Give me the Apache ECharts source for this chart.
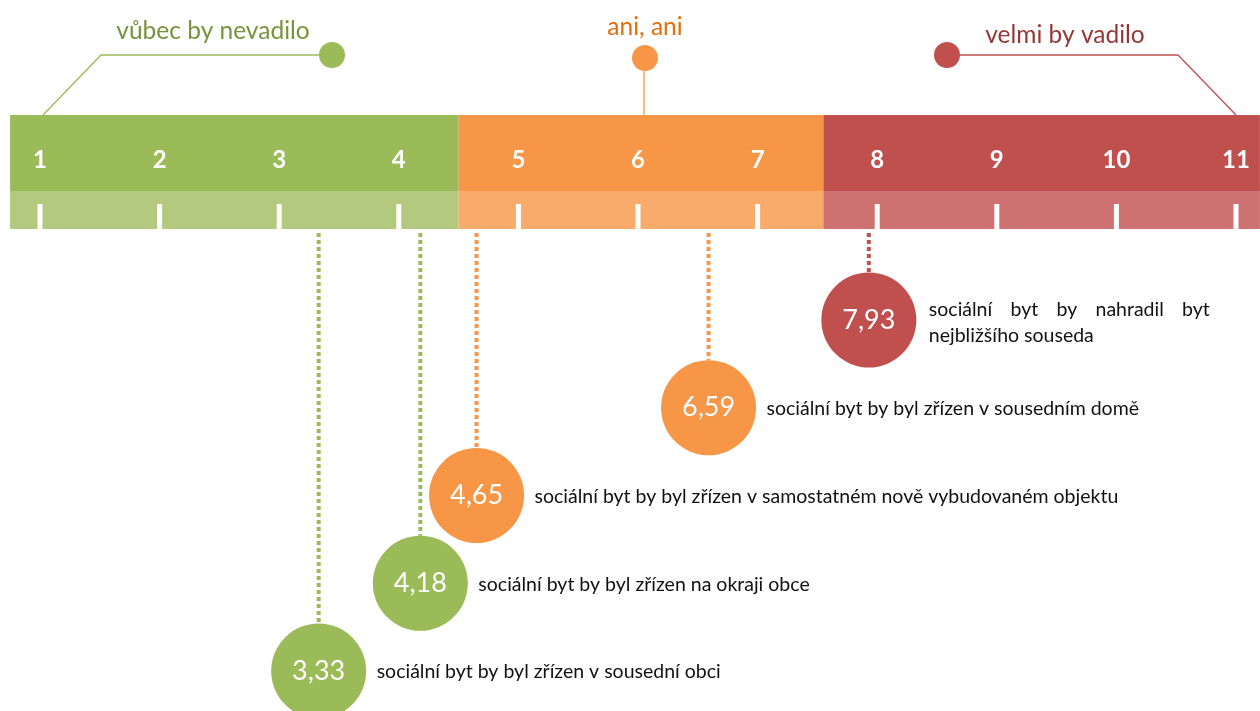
<!DOCTYPE html>
<html><head><meta charset="utf-8">
<script src="https://cdn.jsdelivr.net/npm/echarts@6/dist/echarts.min.js"></script>
<style>html,body{margin:0;padding:0;background:#fff}#c{width:1260px;height:711px}</style>
</head><body><div id="c"></div>
<script>
// ---- data ----
const scaleTicks = [1, 2, 3, 4, 5, 6, 7, 8, 9, 10, 11];
const zoneNames = ['vůbec by nevadilo', 'ani, ani', 'velmi by vadilo'];
const zoneStart = [0.75, 4.5, 7.55];
const zoneEnd = [4.5, 7.55, 11.2];
const zoneAnchor = [1, 6, 11];
const itemTexts = [
  'sociální byt by nahradil byt nejbližšího souseda',
  'sociální byt by byl zřízen v sousedním domě',
  'sociální byt by byl zřízen v samostatném nově vybudovaném objektu',
  'sociální byt by byl zřízen na okraji obce',
  'sociální byt by byl zřízen v sousední obci'
];
const itemValues = [7.93, 6.59, 4.65, 4.18, 3.33];
const itemRanks = [1, 2, 3, 4, 5];

// ---- styles / layout ----
const COL = ['#9BBB59', '#F79646', '#C0504D'];
const LIGHT = ['#B2C97E', '#F9AB6C', '#CD7270'];
const TXT = ['#77933C', '#E46C0A', '#953735'];
const BAR_TOP = 115, BAR_MID = 191, BAR_BOT = 229;
const FONT = 'Lato, "Open Sans", sans-serif';
const DESC_FONT = '19.5px ' + FONT;
const R = 47.5;
const textWrap = [281, 0, 0, 0, 0];
const LINE_H = 26;
// annotation leader offsets relative to anchor x
const ANN = [
  {poly: [[3, BAR_TOP], [61, 55], [292, 55]], circle: [292, 55], text: [173, 31]},
  {poly: [[6, 71], [6, BAR_TOP]], circle: [7, 58], text: [7, 27]},
  {poly: [[0, BAR_TOP], [-58, 55], [-289, 55]], circle: [-289, 55], text: [-171, 35]}
];
function zoneOf(v) { return v < zoneEnd[0] ? 0 : (v < zoneEnd[1] ? 1 : 2); }

const mctx = document.createElement('canvas').getContext('2d');
function measure(t) { mctx.font = DESC_FONT; return mctx.measureText(t).width; }

// justified text block (word elements) starting at x, vertically centred at y
function justified(text, x, y, W) {
  const words = text.split(' ');
  const lines = [];
  let cur = [];
  words.forEach(w => {
    const trial = cur.concat([w]).join(' ');
    if (cur.length && measure(trial) > W) { lines.push(cur); cur = [w]; }
    else cur.push(w);
  });
  if (cur.length) lines.push(cur);
  const out = [];
  const y0 = y - (lines.length - 1) * LINE_H / 2;
  lines.forEach((ws, li) => {
    const ly = y0 + li * LINE_H;
    const last = li === lines.length - 1;
    const wsum = ws.reduce((s, w) => s + measure(w), 0);
    const gap = (!last && ws.length > 1) ? (W - wsum) / (ws.length - 1) : measure(' ');
    let cx = x;
    ws.forEach(w => {
      out.push({type: 'text', style: {x: cx, y: ly, text: w, fill: '#111111', font: DESC_FONT,
        align: 'left', verticalAlign: 'middle'}});
      cx += measure(w) + gap;
    });
  });
  return out;
}

const chart = echarts.init(document.getElementById('c'), null, {renderer: 'canvas'});
chart.setOption({
  animation: false,
  grid: {left: 40, right: 24, top: 320, bottom: 40},
  xAxis: {type: 'value', min: 1, max: 11, show: false},
  yAxis: {type: 'value', min: 1, max: 5, inverse: true, show: false},
  series: [
    { // scale bar zones
      type: 'custom', clip: false, z: 1,
      data: zoneStart.map((s, i) => [s, zoneEnd[i], i]),
      renderItem: (params, api) => {
        const i = api.value(2);
        const x1 = api.coord([api.value(0), 1])[0];
        const x2 = api.coord([api.value(1), 1])[0];
        return {type: 'group', children: [
          {type: 'rect', shape: {x: x1, y: BAR_TOP, width: x2 - x1, height: BAR_MID - BAR_TOP}, style: {fill: COL[i]}},
          {type: 'rect', shape: {x: x1, y: BAR_MID, width: x2 - x1, height: BAR_BOT - BAR_MID}, style: {fill: LIGHT[i]}}
        ]};
      }
    },
    { // ticks and tick labels
      type: 'custom', clip: false, z: 3,
      data: scaleTicks.map(t => [t, 1]),
      renderItem: (params, api) => {
        const x = api.coord([api.value(0), 1])[0];
        return {type: 'group', children: [
          {type: 'rect', shape: {x: x - 2.5, y: 204, width: 5, height: BAR_BOT - 204}, style: {fill: '#ffffff'}},
          {type: 'text', style: {x: x, y: 160, text: String(api.value(0)), fill: '#ffffff',
            font: 'bold 24px ' + FONT, align: 'center', verticalAlign: 'middle'}}
        ]};
      }
    },
    { // zone annotations
      type: 'custom', clip: false, z: 2,
      data: zoneAnchor.map((a, i) => [a, 1, i]),
      renderItem: (params, api) => {
        const i = api.value(2);
        const x0 = api.coord([api.value(0), 1])[0];
        const a = ANN[i];
        return {type: 'group', children: [
          {type: 'polyline', shape: {points: a.poly.map(p => [x0 + p[0], p[1]])}, style: {stroke: COL[i], lineWidth: 1.3, fill: null}},
          {type: 'circle', shape: {cx: x0 + a.circle[0], cy: a.circle[1], r: 13}, style: {fill: COL[i]}},
          {type: 'text', style: {x: x0 + a.text[0], y: a.text[1], text: zoneNames[i], fill: TXT[i],
            font: '24.5px ' + FONT, align: 'center', verticalAlign: 'middle'}}
        ]};
      }
    },
    { // dotted leaders + descriptions
      type: 'custom', clip: false, z: 2,
      data: itemValues.map((v, i) => [v, itemRanks[i], i]),
      renderItem: (params, api) => {
        const i = api.value(2);
        const v = api.value(0);
        const p = api.coord([v, api.value(1)]);
        const c = COL[zoneOf(v)];
        const children = [
          {type: 'line', shape: {x1: p[0], y1: BAR_BOT + 4, x2: p[0], y2: p[1] - R}, style: {stroke: c, lineWidth: 4, lineDash: [4, 3]}}
        ];
        if (textWrap[i]) {
          justified(itemTexts[i], p[0] + 60, p[1] + 3, textWrap[i]).forEach(el => children.push(el));
        } else {
          children.push({type: 'text', style: {x: p[0] + 58, y: p[1] + 1, text: itemTexts[i], fill: '#111111',
            font: DESC_FONT, align: 'left', verticalAlign: 'middle'}});
        }
        return {type: 'group', children: children};
      }
    },
    { // bubbles
      type: 'scatter', clip: false, z: 5,
      symbolSize: 2 * R,
      data: itemValues.map((v, i) => ({value: [v, itemRanks[i]], itemStyle: {color: COL[zoneOf(v)], opacity: 1}})),
      label: {show: true, position: 'inside', color: '#ffffff', fontSize: 27, fontFamily: FONT,
        formatter: p => String(p.value[0]).replace('.', ',')}
    }
  ]
});
</script></body></html>
